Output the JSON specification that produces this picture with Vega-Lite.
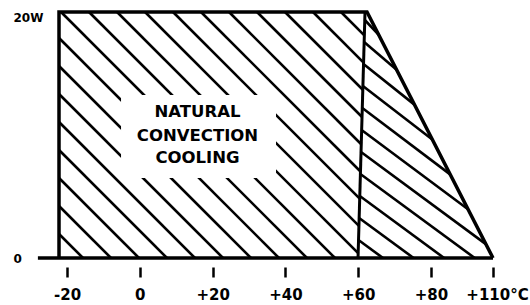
{
  "$schema": "https://vega.github.io/schema/vega-lite/v6.json",
  "width": 530,
  "height": 258,
  "autosize": {"type": "none"},
  "padding": {"left": 0, "top": 0, "right": 0, "bottom": 47},
  "background": "white",
  "config": {"view": {"stroke": null}, "axis": {"grid": false}},
  "datasets": {
    "hatch": [
      {"x": -22.2, "y": 1.951, "x2": -15.6, "y2": 0},
      {"x": -22.2, "y": 4.228, "x2": -7.91, "y2": 0},
      {"x": -22.2, "y": 6.504, "x2": -0.22, "y2": 0},
      {"x": -22.2, "y": 8.78, "x2": 7.47, "y2": 0},
      {"x": -22.2, "y": 11.057, "x2": 15.16, "y2": 0},
      {"x": -22.2, "y": 13.333, "x2": 22.86, "y2": 0},
      {"x": -22.2, "y": 15.61, "x2": 30.55, "y2": 0},
      {"x": -22.2, "y": 17.886, "x2": 38.24, "y2": 0},
      {"x": -21.65, "y": 20, "x2": 45.93, "y2": 0},
      {"x": -13.96, "y": 20, "x2": 53.63, "y2": 0},
      {"x": -6.26, "y": 20, "x2": 59.98, "y2": 0.395},
      {"x": 1.43, "y": 20, "x2": 60.2, "y2": 2.609},
      {"x": 9.12, "y": 20, "x2": 60.41, "y2": 4.822},
      {"x": 16.81, "y": 20, "x2": 60.62, "y2": 7.036},
      {"x": 24.51, "y": 20, "x2": 60.83, "y2": 9.25},
      {"x": 32.2, "y": 20, "x2": 61.05, "y2": 11.463},
      {"x": 39.89, "y": 20, "x2": 61.26, "y2": 13.676},
      {"x": 47.58, "y": 20, "x2": 61.47, "y2": 15.89},
      {"x": 55.27, "y": 20, "x2": 61.68, "y2": 18.103},
      {"x": 60.08, "y": 1.46, "x2": 66.81, "y2": 0},
      {"x": 60.25, "y": 3.25, "x2": 75.22, "y2": 0},
      {"x": 60.44, "y": 5.04, "x2": 86.34, "y2": 0},
      {"x": 60.6, "y": 6.83, "x2": 101.15, "y2": 0},
      {"x": 60.77, "y": 8.62, "x2": 106.54, "y2": 1.13},
      {"x": 60.93, "y": 10.41, "x2": 97.9, "y2": 3.97},
      {"x": 61.13, "y": 12.2, "x2": 89.27, "y2": 6.8},
      {"x": 61.29, "y": 13.98, "x2": 80.63, "y2": 9.63},
      {"x": 61.46, "y": 15.77, "x2": 75.45, "y2": 12.47},
      {"x": 61.62, "y": 17.56, "x2": 70.55, "y2": 15.3},
      {"x": 61.81, "y": 19.35, "x2": 65.65, "y2": 18.14}
    ],
    "clear": [{"x": -5.16, "x2": 37.42, "y": 13.25, "y2": 6.5}],
    "labels": [
      {"text": "NATURAL", "x": 15.85, "y": 11.83},
      {"text": "CONVECTION", "x": 15.85, "y": 9.88},
      {"text": "COOLING", "x": 15.85, "y": 8.09}
    ],
    "outline": [
      {"order": 1, "x": -22.2, "y": 0},
      {"order": 2, "x": -22.2, "y": 20},
      {"order": 3, "x": 62.42, "y": 20},
      {"order": 4, "x": 110, "y": 0}
    ],
    "divider": [{"x": 59.95, "y": 0, "x2": 61.87, "y2": 20}],
    "baseline": [{"x": -28, "x2": 110, "y": 0}]
  },
  "layer": [
    {
      "data": {"name": "hatch"},
      "mark": {"type": "rule", "color": "black", "strokeWidth": 2.6, "strokeCap": "butt"},
      "encoding": {
        "x": {
          "field": "x", "type": "quantitative", "title": null,
          "scale": {"domain": [-28, 80, 110], "range": [37.9, 431, 493], "nice": false, "zero": false},
          "axis": {
            "values": [-20, 0, 20, 40, 60, 80, 110],
            "labelExpr": "datum.value == 110 ? '+110°C' : (datum.value > 0 ? '+' + datum.value : '' + datum.value)",
            "domain": false,
            "offset": 9,
            "ticks": true,
            "tickSize": 10,
            "tickWidth": 2.5,
            "tickColor": "black",
            "labelPadding": 10,
            "labelFont": "DejaVu Sans",
            "labelFontWeight": "bold",
            "labelFontSize": 15,
            "labelColor": "black",
            "labelFlush": false,
            "labelOverlap": false,
            "labelOffset": {"condition": {"test": "datum.value == 110", "value": 4}, "value": 0},
            "title": null
          }
        },
        "y": {
          "field": "y", "type": "quantitative", "title": null,
          "scale": {"domain": [0, 20], "range": [258, 12], "nice": false, "zero": false},
          "axis": {
            "values": [0, 20],
            "labelExpr": "datum.value == 20 ? '20W' : '0'",
            "domain": false,
            "ticks": false,
            "tickSize": 0,
            "offset": -13,
            "labelAlign": "left",
            "labelBaseline": "middle",
            "labelPadding": 0,
            "labelFont": "DejaVu Sans",
            "labelFontWeight": "bold",
            "labelFontSize": 12,
            "labelColor": "black",
            "labelFlush": false,
            "labelOverlap": false,
            "labelOffset": {"condition": {"test": "datum.value == 20", "value": 5}, "value": 0},
            "title": null
          }
        },
        "x2": {"field": "x2"},
        "y2": {"field": "y2"}
      }
    },
    {
      "data": {"name": "clear"},
      "mark": {"type": "rect", "fill": "white", "stroke": null},
      "encoding": {
        "x": {"field": "x", "type": "quantitative", "title": null},
        "x2": {"field": "x2"},
        "y": {"field": "y", "type": "quantitative", "title": null},
        "y2": {"field": "y2"}
      }
    },
    {
      "data": {"name": "labels"},
      "mark": {"type": "text", "font": "DejaVu Sans", "fontWeight": "bold", "fontSize": 16.5, "color": "black", "align": "center", "baseline": "middle"},
      "encoding": {
        "x": {"field": "x", "type": "quantitative", "title": null},
        "y": {"field": "y", "type": "quantitative", "title": null},
        "text": {"field": "text"}
      }
    },
    {
      "data": {"name": "outline"},
      "mark": {"type": "line", "color": "black", "strokeWidth": 3.5, "strokeJoin": "miter"},
      "encoding": {
        "x": {"field": "x", "type": "quantitative", "title": null},
        "y": {"field": "y", "type": "quantitative", "title": null},
        "order": {"field": "order"}
      }
    },
    {
      "data": {"name": "divider"},
      "mark": {"type": "rule", "color": "black", "strokeWidth": 3},
      "encoding": {
        "x": {"field": "x", "type": "quantitative", "title": null},
        "y": {"field": "y", "type": "quantitative", "title": null},
        "x2": {"field": "x2"},
        "y2": {"field": "y2"}
      }
    },
    {
      "data": {"name": "baseline"},
      "mark": {"type": "rule", "color": "black", "strokeWidth": 3.5},
      "encoding": {
        "x": {"field": "x", "type": "quantitative", "title": null},
        "x2": {"field": "x2"},
        "y": {"field": "y", "type": "quantitative", "title": null}
      }
    }
  ]
}
